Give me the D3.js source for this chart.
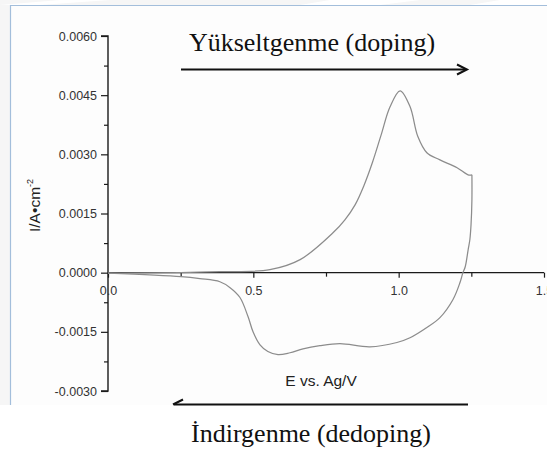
<!DOCTYPE html>
<html>
<head>
<meta charset="utf-8">
<script src="https://cdn.jsdelivr.net/npm/d3@7"></script>
<style>
  body { margin: 0; background: #f6f6f6; }
  svg { display: block; }
</style>
</head>
<body>
<svg id="chart" width="547" height="452"></svg>
<script>
// cyclic voltammogram (E in V, I in A/cm2)
const forwardE = [0, 0.25, 0.385, 0.557, 0.661, 0.774, 0.815, 0.85, 0.88, 0.91, 0.94, 0.97, 1.005, 1.039, 1.066, 1.097, 1.142, 1.201, 1.239, 1.252];
const forwardI = [-0.00001, 0, 0.000025, 0.000076, 0.00033, 0.00101, 0.00134, 0.00172, 0.0022, 0.0028, 0.0035, 0.0042, 0.00461, 0.00421, 0.00345, 0.00304, 0.00286, 0.00266, 0.00248, 0.00248];
const reverseE = [1.252, 1.252, 1.249, 1.245, 1.239, 1.229, 1.221, 1.211, 1.187, 1.142, 1.097, 1.039, 0.994, 0.901, 0.798, 0.729, 0.671, 0.626, 0.585, 0.55, 0.523, 0.499, 0.482, 0.454, 0.42, 0.385, 0.316, 0.251, 0];
const reverseI = [0.00248, 0.00185, 0.00122, 0.00084, 0.00058, 0.00015, 0, -0.00025, -0.00068, -0.00114, -0.00139, -0.00165, -0.00177, -0.00188, -0.0018, -0.00185, -0.00193, -0.00203, -0.00208, -0.002, -0.00183, -0.0015, -0.00112, -0.00063, -0.00038, -0.00023, -0.00015, -0.0001, -0.00001];

const yTicks = [-0.0030, -0.0015, 0.0000, 0.0015, 0.0030, 0.0045, 0.0060];
const yMinor = [-0.00225, -0.00075, 0.00075, 0.00225, 0.00375, 0.00525];
const xTicks = [0.0, 0.5, 1.0, 1.5];
const xMinor = [0.25, 0.75, 1.25];

const topLabel = 'Yükseltgenme (doping)';
const bottomLabel = 'İndirgenme (dedoping)';

const svg = d3.select('#chart');
const sans = 'Liberation Sans, Arial, sans-serif';
const serif = 'Liberation Serif, Times New Roman, serif';

// page frame
svg.append('rect').attr('x', 10).attr('y', 5).attr('width', 537).attr('height', 447).attr('fill', '#fdfdfd');
[[[60, 0], [110, 0], [40, 5], [0, 5]], [[330, 0], [420, 0], [380, 5], [300, 5]], [[500, 0], [547, 0], [547, 5], [470, 5]]]
    .forEach(p => svg.append('polygon').attr('points', p.join(' ')).attr('fill', '#fff'));
svg.append('rect').attr('x', 0).attr('y', 405).attr('width', 547).attr('height', 47).attr('fill', '#fff');
svg.append('line').attr('x1', 10).attr('x2', 547).attr('y1', 5.5).attr('y2', 5.5).attr('stroke', '#a3bedb').attr('stroke-width', 1.2);
svg.append('line').attr('x1', 10.5).attr('x2', 10.5).attr('y1', 5).attr('y2', 405).attr('stroke', '#a3bedb').attr('stroke-width', 1.2);

const x = d3.scaleLinear().domain([0, 1.5]).range([108, 544]);
const y = d3.scaleLinear().domain([-0.003, 0.006]).range([391, 36]);

// y axis
const yAxis = svg.append('g').attr('transform', `translate(${x(0)},0)`)
    .call(d3.axisLeft(y).tickValues(yTicks).tickSize(7).tickPadding(4).tickFormat(d => d.toFixed(4)));
svg.append('g').attr('transform', `translate(${x(0)},0)`)
    .call(d3.axisLeft(y).tickValues(yMinor).tickSize(4).tickFormat(''))
    .select('.domain').remove();

// x axis at I = 0
const xAxis = svg.append('g').attr('transform', `translate(0,${y(0)})`)
    .call(d3.axisBottom(x).tickValues(xTicks).tickSize(5).tickPadding(8).tickFormat(d => d.toFixed(1)));
svg.append('g').attr('transform', `translate(0,${y(0)})`)
    .call(d3.axisBottom(x).tickValues(xMinor).tickSize(4).tickFormat(''))
    .select('.domain').remove();

svg.selectAll('.domain').attr('stroke', '#1a1a1a').attr('stroke-width', 1.4);
svg.selectAll('.tick line').attr('stroke', '#1a1a1a').attr('stroke-width', 1.2);
svg.selectAll('.tick text').attr('font-family', sans).attr('font-size', 12.5).attr('fill', '#333');
xAxis.select('.domain').attr('d', `M${x(0)},0H${x(1.5)}`);
yAxis.select('.domain').attr('d', `M-7,${y(0.006)}H0V${y(-0.003)}H-7`);

// curve
const line = d3.line().x(d => x(d[0])).y(d => y(d[1])).curve(d3.curveCatmullRom.alpha(0.5));
const fwd = forwardE.map((e, i) => [e, forwardI[i]]);
const rev = reverseE.map((e, i) => [e, reverseI[i]]);
svg.append('path').datum(fwd).attr('d', line).attr('fill', 'none').attr('stroke', '#8c8c8c').attr('stroke-width', 1.25);
svg.append('path').datum(rev).attr('d', line).attr('fill', 'none').attr('stroke', '#8c8c8c').attr('stroke-width', 1.25);

// axis titles
const yt = svg.append('text').attr('transform', 'translate(40,232) rotate(-90)')
    .attr('font-family', sans).attr('font-size', 15.5).attr('fill', '#222');
yt.append('tspan').text('I/A•cm');
yt.append('tspan').attr('font-size', 9).attr('dy', -7).text('-2');
svg.append('text').attr('x', 321).attr('y', 386).attr('text-anchor', 'middle')
    .attr('font-family', sans).attr('font-size', 15.5).attr('fill', '#222').text('E vs. Ag/V');

// scan direction annotations
svg.append('text').attr('x', 312).attr('y', 51).attr('text-anchor', 'middle')
    .attr('font-family', serif).attr('font-size', 26).attr('fill', '#111').text(topLabel);
svg.append('line').attr('x1', 181).attr('x2', 466).attr('y1', 69.5).attr('y2', 69.5).attr('stroke', '#111').attr('stroke-width', 2);
svg.append('path').attr('d', 'M457,64.5L467,69.5L457,74.5').attr('fill', 'none').attr('stroke', '#111').attr('stroke-width', 2);

svg.append('line').attr('x1', 174).attr('x2', 468).attr('y1', 404.5).attr('y2', 404.5).attr('stroke', '#111').attr('stroke-width', 2);
svg.append('path').attr('d', 'M183,399.5L173,404.5').attr('fill', 'none').attr('stroke', '#111').attr('stroke-width', 2);
svg.append('text').attr('x', 311).attr('y', 442).attr('text-anchor', 'middle')
    .attr('font-family', serif).attr('font-size', 26).attr('fill', '#111').text(bottomLabel);
</script>
</body>
</html>
